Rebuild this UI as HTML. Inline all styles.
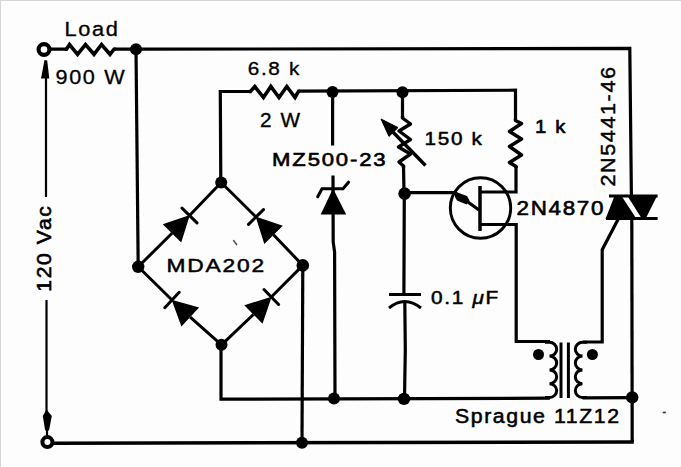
<!DOCTYPE html>
<html><head><meta charset="utf-8">
<style>
html,body{margin:0;padding:0;background:#fff;width:681px;height:467px;overflow:hidden}
svg{display:block}
text{font-family:"Liberation Sans",sans-serif;font-weight:normal;font-size:19.3px;fill:#000;stroke:#000;stroke-width:0.7px;stroke-linejoin:round}
</style></head><body>
<svg width="681" height="467" viewBox="0 0 681 467">
<rect x="0" y="0" width="681" height="467" fill="#fdfdfd"/>
<!-- frame top/left light gray -->
<line x1="0" y1="0.5" x2="681" y2="0.5" stroke="#d6d6d6" stroke-width="1"/>
<line x1="0.5" y1="0" x2="0.5" y2="467" stroke="#d6d6d6" stroke-width="1"/>

<g fill="none" stroke="#000" stroke-width="3.2" stroke-linejoin="miter">
  <!-- terminals -->
  <circle cx="44" cy="49.5" r="5.4" stroke-width="4.2"/>
  <circle cx="47.4" cy="442.1" r="5" stroke-width="4"/>
  <!-- load resistor and top wire -->
  <path d="M49.5 49.2 H66 M114 49.2 H136 L629.8 48.4 L631.4 196"/>
  <path stroke-width="3.6" d="M65 49.2 H66.5 L69.5 44.5 L77.5 54.3 L85.5 44.5 L94 54.3 L101.5 44.5 L110 54.3 L114 49.2 H116"/>
  <!-- right vertical below triac to bottom line, bottom line -->
  <path d="M631.8 219 L632.2 442"/>
  <path stroke-width="3.6" d="M633.8 442 L53 443.2"/>
  <!-- left vertical from top node to bridge left -->
  <path d="M136 49 L138.2 266.9"/>
  <!-- 6.8k -->
  <path stroke-width="3.6" d="M249 91.5 H250.5 L254.8 86.5 L263.5 97.5 L270.8 86.5 L279 97.5 L286.8 86.5 L295 97.5 L298.6 91.2 H300"/>
  <path d="M220.8 182.5 L220.3 91.5 H250.3 M298.6 91.2 L515.5 90.2 V120.5 M516 166 V192 H480"/>
  <path stroke-width="3.5" stroke-linejoin="round" d="M515.5 119 V120.5 L521.5 123.5 L509.5 131.5 L521.5 139 L509.5 146.5 L521.5 155 L509.5 162.5 L516 166.5 V168"/>
  <!-- zener vertical -->
  <path d="M332.6 91.2 V145.5 M333 175.5 L333.2 242 L334.6 252 L335 398.6"/>
  <!-- 150k variable resistor -->
  <path d="M402.5 90.7 V118 M403.5 166 L404 192.5"/>
  <path stroke-width="3.4" stroke-linejoin="round" d="M402.5 116 V118 L410.5 124 L399 131 L410.5 139.5 L398.5 147 L410.5 154 L399 162 L403.5 166 V168"/>
  <!-- emitter line and cap -->
  <path d="M404 192.6 H455 L479 210"/>
  <path d="M404.3 192.5 L403.9 294.5 M404.8 302 L405.3 350 L404.5 398.8"/>
  <!-- bridge right vertical -->
  <path d="M302.8 265.4 L302 442.8"/>
  <!-- bridge bottom to common line -->
  <path d="M221 345 V399.2 L550 398.2"/>
  <path d="M582.5 397.8 L632 397.6"/>
  <!-- UJT B1 -->
  <path d="M480 224.5 H516.2 V341.5 H550"/>
  <!-- secondary top to gate -->
  <path d="M583 342 H602.2 V249.7 L618.5 218.5"/>
</g>

<!-- left arrow line (thinner) -->
<g stroke="#000" stroke-width="2.2" fill="none">
  <path d="M46 70 V197 M46.5 300 V420 M47 428 V437"/>
</g>
<g fill="#000">
  <path d="M44.5 60 L47.2 60.5 L49.3 78.5 L41 78.5 Z"/>
  <path d="M46.6 409.5 L51.8 416 L49.2 429.5 L47 432.5 L45 429.5 L42.8 416 Z"/>
</g>

<!-- dots -->
<g fill="#000">
  <circle cx="136" cy="49.3" r="6"/>
  <circle cx="221.2" cy="182.5" r="6"/>
  <circle cx="138.2" cy="266.8" r="6.2"/>
  <circle cx="302.8" cy="265.4" r="6.3"/>
  <circle cx="221.5" cy="344.8" r="6"/>
  <circle cx="332.5" cy="92.1" r="6"/>
  <circle cx="402.5" cy="92.3" r="6"/>
  <circle cx="404.6" cy="193.6" r="6.3"/>
  <circle cx="334" cy="398.6" r="6"/>
  <circle cx="404" cy="398.9" r="6.2"/>
  <circle cx="302" cy="442.8" r="6"/>
  <circle cx="632.2" cy="397.4" r="6.2"/>
  <circle cx="538.5" cy="354.5" r="5.5"/>
  <circle cx="592.4" cy="354.5" r="5.5"/>
</g>

<!-- bridge -->
<path fill="none" stroke="#000" stroke-width="3" d="M138.2 266.8 L172.0 233.3 M189.5 215.5 L221.2 182.5 M302.8 265.4 L273.5 234.8 M256.0 217.0 L221.2 182.5 M221.5 344.8 L190.2 317.1 M172.0 300.0 L138.2 266.8 M221.5 344.8 L253.4 314.5 M271.3 297.0 L302.8 265.4"/>
<path fill="#000" d="M189.9 215.1 L181.2 242.4 L162.7 224.2Z M255.6 216.6 L282.8 225.7 L264.3 243.9Z M171.6 299.7 L199.1 307.6 L181.4 326.6Z M271.7 296.7 L262.5 323.8 L244.3 305.2Z"/>
<path fill="none" stroke="#000" stroke-width="3" stroke-linecap="round" d="M197.0 222.9 L182.0 208.1 M263.5 209.6 L248.5 224.4 M179.2 292.3 L164.8 307.7 M278.6 304.5 L264.0 289.5"/>
<!-- /bridge -->
<!-- zener -->
<g fill="none" stroke="#000" stroke-width="3" stroke-linecap="round">
  <path d="M317.7 196.8 L322 188.7 H343 L348.5 182.2"/>
</g>
<path d="M333 188.5 L346.2 214.5 L320.7 214.5 Z" fill="#000"/>

<!-- variable resistor arrow -->
<line x1="390" y1="129" x2="425.5" y2="165.5" stroke="#000" stroke-width="3.4"/>
<path d="M381 119 L398 127.6 L389 136.4 Z" fill="#000" stroke="#000" stroke-width="1" stroke-linejoin="round"/>

<!-- UJT -->
<circle cx="480.5" cy="208" r="30.2" fill="none" stroke="#000" stroke-width="2.9"/>
<line x1="480" y1="186" x2="480" y2="231" stroke="#000" stroke-width="3.5"/>
<path d="M454.5 191.5 L467 196 L469.5 200.5 L466.5 204.5 L457 200.5 L455 197 Z" fill="#000"/>

<!-- capacitor -->
<line x1="389" y1="294.5" x2="421" y2="294.5" stroke="#000" stroke-width="3"/>
<path d="M389 308 Q404.5 295 421 308" fill="none" stroke="#000" stroke-width="3"/>

<!-- transformer -->
<g fill="none" stroke="#000" stroke-width="3">
  <path d="M545 342.3 H549.5 A7.2 6.90 0 0 1 549.5 356.10 A7.2 6.90 0 0 1 549.5 369.90 A7.2 6.90 0 0 1 549.5 383.70 A7.2 6.90 0 0 1 549.5 397.50 H545"/>
  <path d="M587 342.3 H582.5 A7.2 6.90 0 0 0 582.5 356.10 A7.2 6.90 0 0 0 582.5 369.90 A7.2 6.90 0 0 0 582.5 383.70 A7.2 6.90 0 0 0 582.5 397.50 H587"/>
  <line x1="561" y1="342.5" x2="561" y2="398"/>
  <line x1="568.4" y1="342.5" x2="568.4" y2="398"/>
</g>

<!-- triac -->
<g fill="#000">
  <rect x="609" y="194.5" width="48.6" height="3"/>
  <rect x="606" y="217" width="51.6" height="3"/>
  <path d="M614.5 196 L621.5 196 L636.6 219 L605.5 219 Z"/>
  <path d="M627.5 196 L657 196 L645.5 219 L642 219 Z"/>
</g>

<!-- scan marks -->
<line x1="233.6" y1="240.6" x2="236.6" y2="244.6" stroke="#555" stroke-width="1.6" stroke-linecap="round"/>
<ellipse cx="664.3" cy="412.5" rx="1.8" ry="0.9" fill="#444"/>
<!-- texts -->
<text transform="translate(64.4 35.5) scale(1.128 1)" style="font-size:19.3px;stroke-width:0.3px" letter-spacing="1.51">Load</text>
<text transform="translate(55.5 84.2) scale(1.092 1)" style="font-size:19.8px;stroke-width:0.3px" letter-spacing="1.51">900 W</text>
<text transform="translate(247.8 74.8) scale(1.092 1)" style="font-size:19px;stroke-width:0.35px" letter-spacing="1.50">6.8 k</text>
<text transform="translate(260.1 127.0) scale(1.058 1)" style="font-size:19.6px;stroke-width:0.35px" letter-spacing="1.50">2 W</text>
<text transform="translate(272.1 166.1) scale(1.208 1)" style="font-size:18.3px;stroke-width:0.6px" letter-spacing="1.51">MZ500-23</text>
<text transform="translate(424.5 145.2) scale(1.126 1)" style="font-size:18.4px;stroke-width:0.5px" letter-spacing="1.51">150 k</text>
<text transform="translate(535.0 133.0) scale(1.095 1)" style="font-size:18.6px;stroke-width:0.6px" letter-spacing="1.53">1 k</text>
<text transform="translate(516.5 215.3) scale(1.121 1)" style="font-size:20px;stroke-width:0.6px" letter-spacing="1.51">2N4870</text>
<text transform="translate(166.4 272.4) scale(1.212 1)" style="font-size:18.8px;stroke-width:0.5px" letter-spacing="1.52">MDA202</text>
<text transform="translate(430.9 304.1) scale(1.131 1)" style="font-size:18.4px;stroke-width:0.5px" letter-spacing="1.51">0.1 <tspan font-style="italic">μ</tspan>F</text>
<text transform="translate(455.0 423.0) scale(1.063 1)" style="font-size:20px;stroke-width:0.55px" letter-spacing="1.50">Sprague 11Z12</text>
<text transform="translate(51.3 291.7) rotate(-90) scale(1.071 1)" style="font-size:19.7px;stroke-width:0.6px" letter-spacing="1.50">120 Vac</text>
<text transform="translate(615.3 186.6) rotate(-90) scale(1.055 1)" style="font-size:20.5px;stroke-width:0.45px" letter-spacing="1.50">2N5441-46</text>
</svg>
</body></html>
